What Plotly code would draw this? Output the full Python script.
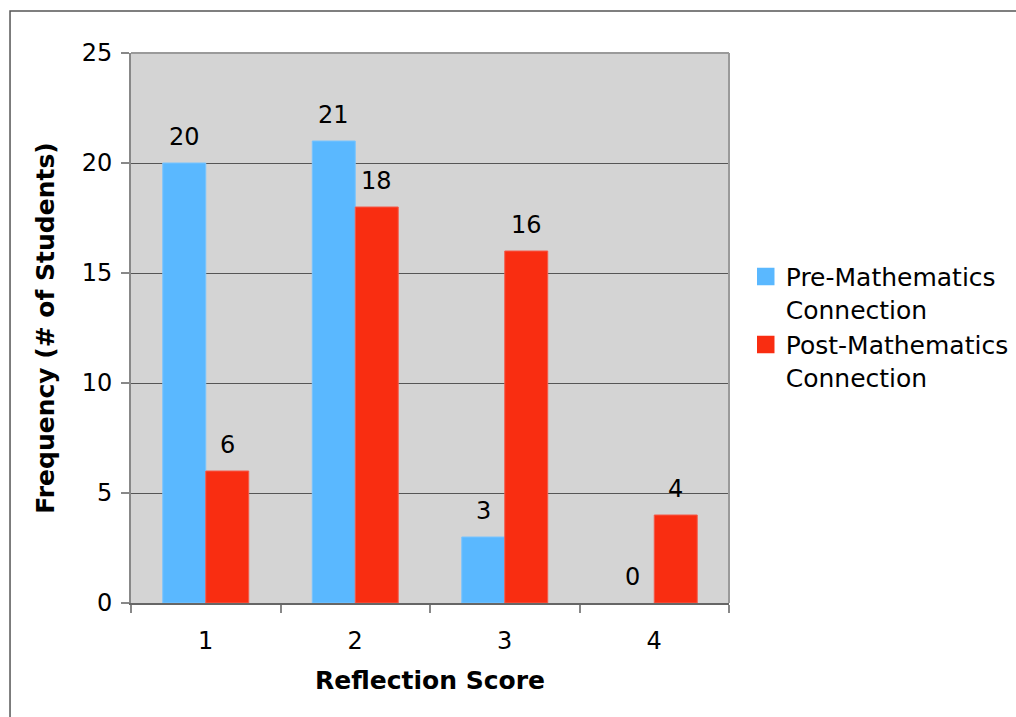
import plotly.graph_objects as go

# Reflection score categories and student counts
scores = ["1", "2", "3", "4"]
pre_counts = [20, 21, 3, 0]
post_counts = [6, 18, 16, 4]
series_names = ["Pre-Mathematics<br>Connection", "Post-Mathematics<br>Connection"]
y_ticks = [0, 5, 10, 15, 20, 25]

BLUE = "#5ab8ff"
RED = "#f92d11"
FONT = "DejaVu Sans, Verdana, sans-serif"

fig = go.Figure()

fig.add_trace(go.Bar(x=scores, y=pre_counts,
                     marker=dict(color=BLUE, line=dict(color="#78c4ff", width=[1 if v else 0 for v in pre_counts])),
                     showlegend=False, offsetgroup="pre"))
fig.add_trace(go.Bar(x=scores, y=post_counts,
                     marker=dict(color=RED, line=dict(color="#f55a4a", width=[1 if v else 0 for v in post_counts])),
                     showlegend=False, offsetgroup="post"))

# legend entries with larger square swatches
for name, col in zip(series_names, [BLUE, RED]):
    fig.add_trace(go.Scatter(x=[scores[0]], y=[None], mode="markers", name=name,
                             marker=dict(symbol="square", size=16, color=col, line=dict(color=col, width=1.5))))

# value labels above each bar (x given as category index)
for i in range(len(scores)):
    for vals, shift in ((pre_counts, -21.5), (post_counts, 21.5)):
        fig.add_annotation(x=i, y=vals[i], xref="x", yref="y", text=str(vals[i]), showarrow=False,
                           xshift=shift, yshift=26, yanchor="middle",
                           font=dict(family=FONT, size=24, color="black"))

# outer frame and top/right plot border
fig.add_shape(type="rect", xref="paper", yref="paper", x0=-0.2023, x1=1.49, y0=-0.22, y1=1.0764,
              line=dict(color="#555555", width=1.5), layer="above")
fig.add_shape(type="line", xref="paper", yref="paper", x0=0, x1=1, y0=1, y1=1,
              line=dict(color="#9a9a9a", width=2))
fig.add_shape(type="line", xref="paper", yref="paper", x0=1, x1=1, y0=0, y1=1,
              line=dict(color="#9a9a9a", width=2))

fig.update_layout(
    width=1016, height=717,
    margin=dict(l=131, r=287, t=53, b=114, autoexpand=False),
    paper_bgcolor="white",
    plot_bgcolor="#d4d4d4",
    barmode="group",
    bargap=0.425,
    bargroupgap=0,
    font=dict(family=FONT, size=24, color="black"),
    legend=dict(x=1.028, y=0.635, xanchor="left", yanchor="top", valign="top",
                font=dict(family=FONT, size=25, color="black"), bgcolor="rgba(0,0,0,0)",
                itemwidth=30, tracegroupgap=0),
    xaxis=dict(type="category", categoryorder="array", categoryarray=scores, range=[-0.5, 3.5],
               tickson="boundaries", ticks="outside", ticklen=8, tickcolor="#888888",
               tickwidth=1.5, showline=True, linecolor="#666666", linewidth=2, showgrid=False,
               ticklabelstandoff=15, tickfont=dict(family=FONT, size=24),
               title=dict(text="<b>Reflection Score</b>", font=dict(family=FONT, size=25), standoff=18)),
    yaxis=dict(range=[0, 25], tickvals=y_ticks, ticks="outside", ticklen=8, tickcolor="#888888",
               tickwidth=1.5, showline=True, linecolor="#888888", linewidth=2,
               showgrid=True, gridcolor="#555555", gridwidth=1, zeroline=False,
               ticklabelstandoff=4, tickfont=dict(family=FONT, size=24),
               title=dict(text="<b>Frequency (# of Students)</b>", font=dict(family=FONT, size=25), standoff=20)),
)

fig.write_html("out.html")
